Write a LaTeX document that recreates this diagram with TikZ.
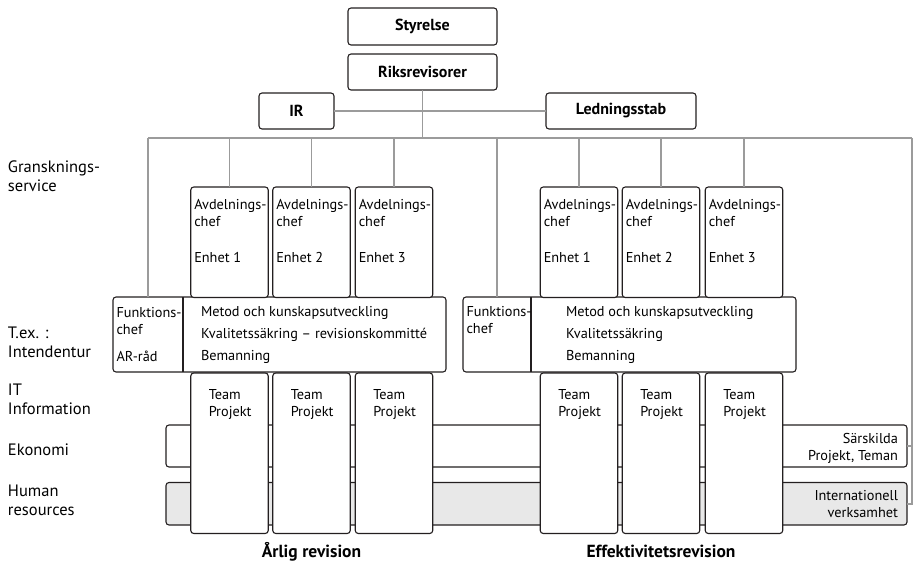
\documentclass[tikz,border=0pt]{standalone}
\usepackage{fontspec}
\setmainfont{PT Sans}
\definecolor{boxc}{HTML}{231F20}
\definecolor{linec}{HTML}{9B9B9B}
\definecolor{hrfill}{HTML}{E8E8E8}
\tikzset{
  x=1pt, y=-1pt,
  box/.style={draw=boxc, line width=1.1pt, rounded corners=3pt, fill=white, inner sep=0pt, outer sep=0pt},
  conn/.style={draw=linec, line width=1.5pt},
  txt/.style={inner sep=0pt, outer sep=0pt, align=left, font=\fontsize{14.3}{17}\selectfont},
  rtxt/.style={inner sep=0pt, outer sep=0pt, align=right, font=\fontsize{14.3}{17}\selectfont},
  side/.style={inner sep=0pt, outer sep=0pt, align=left, font=\fontsize{16.5}{19}\selectfont},
  ttl/.style={inner sep=0pt, outer sep=0pt, font=\fontsize{16}{19}\selectfont\bfseries},
  bttl/.style={inner sep=0pt, outer sep=0pt, font=\fontsize{17.5}{20}\selectfont\bfseries},
}
\begin{document}
\begin{tikzpicture}
\useasboundingbox (0,0) rectangle (914,562);
% bands
\node[box, minimum width=741, minimum height=42, anchor=north west] (eko) at (166,425) {};
\node[box, fill=hrfill, minimum width=741, minimum height=42.5, anchor=north west] (hr) at (166,482.5) {};
\node[rtxt, anchor=base east] (sark) at (898,460.5) {Särskilda\\Projekt, Teman};
\node[rtxt, anchor=base east] (intl) at (898,517.5) {Internationell\\verksamhet};
% top
\node[box, minimum width=149, minimum height=37] (sty) at (422.5,26.5) {};
\node[ttl] (styt) at (sty) {Styrelse};
\node[box, minimum width=149, minimum height=36] (riks) at (422.5,72) {};
\node[ttl] (rikst) at (riks) {Riksrevisorer};
\node[box, minimum width=75, minimum height=36] (ir) at (296.5,111) {};
\node[ttl] (irt) at (ir) {IR};
\node[box, minimum width=150, minimum height=36] (led) at (621,111) {};
\node[ttl] (ledt) at (led) {Ledningsstab};
% bus
\coordinate (busL) at (148,138);
\coordinate (busR) at (912,138);
\coordinate (busM) at (422.5,138);
\draw[conn] (riks.south) -- (busM);
\draw[conn] (ir.east) -- (led.west);
\draw[conn] (busL) -- (busR);
% funktion boxes
\node[box, minimum width=333, minimum height=75, anchor=north west] (f1) at (113,297) {};
\node[box, minimum width=333, minimum height=75, anchor=north west] (f2) at (463,297) {};
\coordinate (f1d) at (183,297);
\coordinate (f2d) at (531,297);
\draw[boxc, line width=1.1pt] (f1d) -- (f1d |- f1.south);
\draw[boxc, line width=1.1pt] (f2d) -- (f2d |- f2.south);
\draw[conn] (busL) -- (busL |- f1.north);
\draw[conn] (497,138) coordinate (b5) -- (b5 |- f2.north);
\node[txt, anchor=base west] (f1a) at (116.5,361) {Funktions-\\chef\\[10pt]AR-råd};
\node[txt, anchor=base west] (f1b) at (201,360.5) {Metod och kunskapsutveckling\\[5pt]Kvalitetssäkring – revisionskommitté\\[5pt]Bemanning};
\node[txt, anchor=base west] (f2a) at (466.5,333.5) {Funktions-\\chef};
\node[txt, anchor=base west] (f2b) at (566,360.5) {Metod och kunskapsutveckling\\[5pt]Kvalitetssäkring\\[5pt]Bemanning};
% avdelning + team columns
\foreach \n/\cx in {a1/229.5, a2/311.5, a3/394, a4/579, a5/661, a6/744}{
  \node[box, minimum width=77.5, minimum height=110.5, anchor=north] (\n) at (\cx,187) {};
  \draw[conn] (\n.north |- busL) -- (\n.north);
  \node[box, minimum width=77.5, minimum height=160.5, anchor=north] (t\n) at (\cx,373) {};
  \node[txt, anchor=base west] (tt\n) at ([xshift=18pt, yshift=-43pt]t\n.north west) {Team\\Projekt};
}
\foreach \n/\k in {a1/1, a2/2, a3/3, a4/1, a5/2, a6/3}{
  \node[txt, anchor=base west] (at\n) at ([xshift=3.5pt, yshift=-75pt]\n.north west) {Avdelnings-\\chef\\[19pt]Enhet \k};
}
% right connector
\coordinate (rS) at (912,446);
\coordinate (rI) at (912,504);
\draw[conn] (busR) -- (rI) -- (hr.east |- rI);
\draw[conn] (rS) -- (eko.east |- rS);
% side labels
\node[side, anchor=base west] (l1) at (8,191) {Gransknings-\\service};
\node[side, anchor=base west] (l2) at (8,357.5) {T.ex. :\\Intendentur};
\node[side, anchor=base west] (l3) at (8,414) {IT\\Information};
\node[side, anchor=base west] (l4) at (8,455) {Ekonomi};
\node[side, anchor=base west] (l5) at (8,515) {Human\\resources};
% bottom titles
\node[bttl] (ar) at (311.5,551.5) {Årlig revision};
\node[bttl] (ef) at (661,551.5) {Effektivitetsrevision};
\end{tikzpicture}
\end{document}
